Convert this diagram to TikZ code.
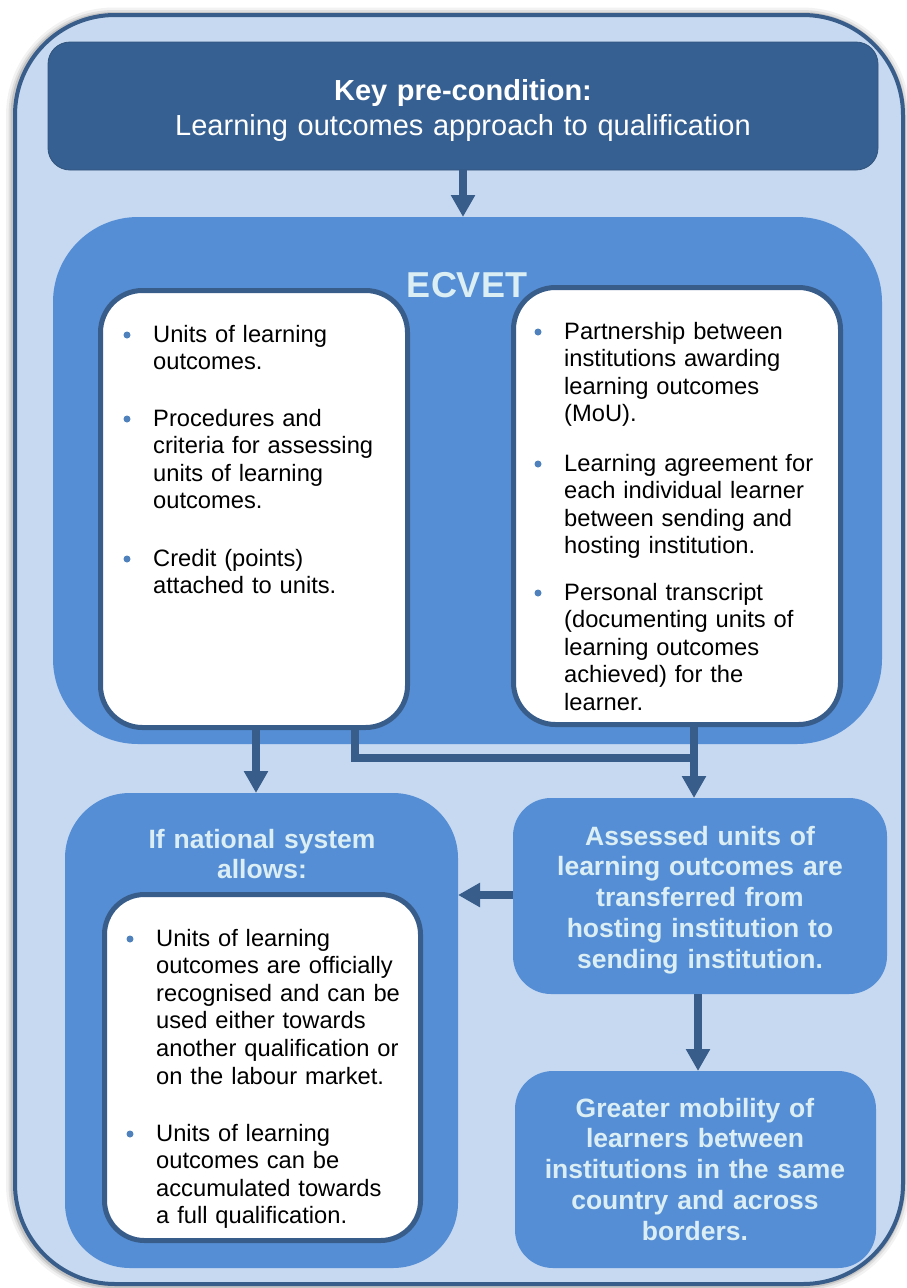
\documentclass[tikz,border=0pt]{standalone}
\usepackage{fontspec}
\setmainfont{Liberation Sans}
\usetikzlibrary{arrows.meta}
\definecolor{dark}{HTML}{385D8A}
\definecolor{topfill}{HTML}{376092}
\definecolor{mid}{HTML}{558ED5}
\definecolor{pale}{HTML}{C6D9F1}
\definecolor{lighttxt}{HTML}{DBEEF4}
\definecolor{bul}{HTML}{4F81BD}
\begin{document}
\begin{tikzpicture}[x=1pt,y=-1pt,
  shape box/.style={rectangle, inner sep=0pt, outer sep=0pt},
  framebox/.style={shape box, fill=pale, draw=dark, line width=4pt, rounded corners=100pt},
  glow/.style={shape box, draw=black, rounded corners=100pt},
  darkbox/.style={shape box, fill=topfill, draw=dark!90!black, line width=0.8pt, rounded corners=22pt},
  midbox/.style={shape box, fill=mid},
  whitebox/.style={shape box, fill=white, draw=dark, line width=5pt, rounded corners=42pt},
  body/.style={font=\fontsize{23.7}{27.6}\selectfont, text=black, text width=300pt, align=left, inner sep=0pt, anchor=base west},
  ttl/.style={font=\bfseries\fontsize{26.5}{30.8}\selectfont, text=lighttxt, text width=380pt, align=center, inner sep=0pt, anchor=base},
  dot/.style={circle, fill=bul, inner sep=0pt, minimum size=7pt},
  conn/.style={draw=dark, line width=7.5pt},
  arr/.style={conn, -{Triangle[length=22pt,width=23pt]}}
]
\useasboundingbox (0,0) rectangle (907,1288);
% outer frame with soft shadow
\node[glow, line width=16pt, opacity=0.05, minimum width=888pt, minimum height=1269pt] (g1) at (458,650) {};
\node[glow, line width=11pt, opacity=0.08, minimum width=888pt, minimum height=1269pt] (g2) at (458,650) {};
\node[glow, line width=7pt, opacity=0.12, minimum width=888pt, minimum height=1269pt] (g3) at (458,650) {};
\node[framebox, minimum width=888pt, minimum height=1269pt] (frame) at (459,649.5) {};

% top box
\node[darkbox, minimum width=830pt, minimum height=128pt] (top) at (463,106) {};
\node[font=\fontsize{29}{35}\selectfont, text=white, text width=820pt, align=center, inner sep=0pt, anchor=base] (toptxt) at (463,100)
  {\textbf{Key pre-condition:}\\Learning outcomes approach to qualification};

% ECVET box
\node[midbox, rounded corners=85pt, minimum width=829pt, minimum height=527pt] (ecvet) at (467.5,480.5) {};
\node[font=\bfseries\fontsize{36}{40}\selectfont, text=lighttxt, inner sep=0pt, anchor=base] (ecvett) at (467,297) {ECVET};

\node[whitebox, minimum width=307pt, minimum height=437pt] (lbox) at (254,509) {};
\node[whitebox, minimum width=327pt, minimum height=437pt] (rbox) at (677,506) {};

% left box items
\node[dot] (lb1) at (127,335) {};
\node[body] (lt1) at (153,342) {Units of learning\\outcomes.};
\node[dot] (lb2) at (127,419) {};
\node[body] (lt2) at (153,426) {Procedures and\\criteria for assessing\\units of learning\\outcomes.};
\node[dot] (lb3) at (127,559) {};
\node[body] (lt3) at (153,566) {Credit (points)\\attached to units.};

% right box items
\node[dot] (rb1) at (538,332) {};
\node[body] (rt1) at (564,339) {Partnership between\\institutions awarding\\learning outcomes\\(MoU).};
\node[dot] (rb2) at (538,464) {};
\node[body] (rt2) at (564,471) {Learning agreement for\\each individual learner\\between sending and\\hosting institution.};
\node[dot] (rb3) at (538,593) {};
\node[body] (rt3) at (564,600) {Personal transcript\\(documenting units of\\learning outcomes\\achieved) for the\\learner.};

% bottom left box
\node[midbox, rounded corners=65pt, minimum width=393pt, minimum height=475pt] (ifbox) at (261.5,1030.5) {};
\node[ttl] (iftxt) at (262,848) {If national system\\allows:};
\node[whitebox, rounded corners=40pt, minimum width=316pt, minimum height=346pt] (ibox) at (262.5,1067.5) {};
\node[dot] (ib1) at (130,939) {};
\node[body] (it1) at (156,946) {Units of learning\\outcomes are officially\\recognised and can be\\used either towards\\another qualification or\\on the labour market.};
\node[dot] (ib2) at (130,1134) {};
\node[body] (it2) at (156,1141) {Units of learning\\outcomes can be\\accumulated towards\\a full qualification.};

% right boxes
\node[midbox, rounded corners=38pt, minimum width=374pt, minimum height=196pt] (abox) at (700,896) {};
\node[ttl] (atxt) at (700,845) {Assessed units of\\learning outcomes are\\transferred from\\hosting institution to\\sending institution.};
\node[midbox, rounded corners=38pt, minimum width=361pt, minimum height=197pt] (gbox) at (695.5,1169.5) {};
\node[ttl] (gtxt) at (695,1117) {Greater mobility of\\learners between\\institutions in the same\\country and across\\borders.};

% connectors
\draw[arr] (top.south) -- (top.south |- ecvet.north);
\coordinate (la) at (256,729);
\draw[arr] (la) -- (la |- ifbox.north);
\coordinate (lc) at (355,729);
\coordinate (ra) at (694,726);
\coordinate (rj) at (697.75,758);
\draw[conn] (lc) |- (rj);
\draw[arr] (ra) -- (ra |- abox.north);
\coordinate (aw) at (abox.west |- 0,895);
\draw[arr] (aw) -- (aw -| ifbox.east);
\coordinate (ad) at (698,994);
\draw[arr] (ad) -- (ad |- gbox.north);
\end{tikzpicture}
\end{document}
